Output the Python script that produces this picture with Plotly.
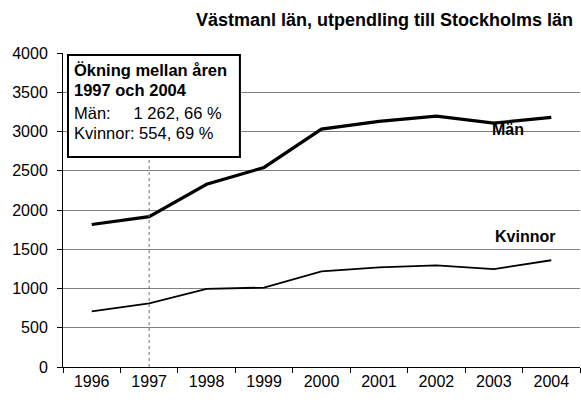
import plotly.graph_objects as go

years = ["1996", "1997", "1998", "1999", "2000", "2001", "2002", "2003", "2004"]
man = [1815, 1915, 2328, 2542, 3030, 3128, 3195, 3107, 3180]
kvinnor = [710, 810, 995, 1012, 1218, 1270, 1295, 1248, 1360]
y_ticks = [0, 500, 1000, 1500, 2000, 2500, 3000, 3500, 4000]

title_text = "Västmanl län, utpendling till Stockholms län"
box_lines = [
    ("<b>Ökning mellan åren</b>", 3783),
    ("<b>1997 och 2004</b>", 3529),
    ("Män:" + "\u00a0" * 5 + "1 262, 66 %", 3236),
    ("Kvinnor: 554, 69 %", 2981),
]
FONT = "Liberation Sans, Arial, sans-serif"

fig = go.Figure()
fig.add_trace(go.Scatter(x=years, y=man, mode="lines", name="Män",
                         line=dict(color="black", width=3.2), showlegend=False))
fig.add_trace(go.Scatter(x=years, y=kvinnor, mode="lines", name="Kvinnor",
                         line=dict(color="black", width=1.8), showlegend=False))

# dashed reference line at 1997
fig.add_shape(type="line", x0=1, x1=1, y0=0, y1=3975, xref="x", yref="y",
              line=dict(color="#707070", width=1, dash="3px,3px"), layer="above")
# info box
fig.add_shape(type="rect", x0=-0.413, x1=2.58, y0=2675, y1=3975, xref="x", yref="y",
              line=dict(color="black", width=2), fillcolor="white", layer="above")
for txt, yy in box_lines:
    fig.add_annotation(x=-0.345, y=yy, xref="x", yref="y", text=txt, showarrow=False,
                       xanchor="left", yanchor="middle",
                       font=dict(family=FONT, size=16.5, color="black"))

fig.add_annotation(x=7.25, y=3030, xref="x", yref="y", text="<b>Män</b>", showarrow=False,
                   font=dict(family=FONT, size=16, color="black"))
fig.add_annotation(x=7.54, y=1660, xref="x", yref="y", text="<b>Kvinnor</b>", showarrow=False,
                   font=dict(family=FONT, size=16, color="black"))

fig.update_layout(
    width=581, height=400,
    margin=dict(l=63, r=1, t=53, b=33),
    paper_bgcolor="white", plot_bgcolor="white",
    font=dict(family=FONT, size=16, color="black"),
    title=dict(text="<b>" + title_text + "</b>", x=384.5 / 581, xanchor="center",
               xref="container", y=1 - 20 / 400, yanchor="middle",
               font=dict(family=FONT, size=18, color="black")),
    xaxis=dict(type="category", range=[-0.5, 8.5], tickson="boundaries", ticks="outside",
               ticklen=5, tickcolor="black", showline=True, linecolor="black", linewidth=1,
               showgrid=False, zeroline=False, fixedrange=True,
               tickfont=dict(family=FONT, size=16, color="black")),
    yaxis=dict(range=[0, 4000], tickvals=y_ticks, ticktext=[str(v) for v in y_ticks],
               ticks="outside", ticklen=5, tickcolor="black", showline=True,
               linecolor="black", linewidth=1, showgrid=True, gridcolor="#808080",
               gridwidth=1, zeroline=False, ticklabelstandoff=6,
               tickfont=dict(family=FONT, size=16, color="black")),
)

fig.write_html("out.html", config={"displayModeBar": False},
               post_script="document.body.style.margin='0';")
